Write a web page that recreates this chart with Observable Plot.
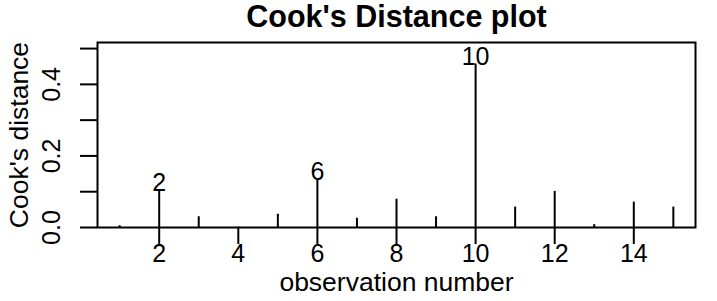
<!DOCTYPE html>
<html>
<head>
<meta charset="utf-8">
<script src="https://cdn.jsdelivr.net/npm/d3@7"></script>
<script src="https://cdn.jsdelivr.net/npm/@observablehq/plot@0.6"></script>
<style>
  html, body { margin: 0; padding: 0; background: #fff; }
  svg { display: block; }
</style>
</head>
<body>
<div id="chart"></div>
<script>
const observation = [1, 2, 3, 4, 5, 6, 7, 8, 9, 10, 11, 12, 13, 14, 15];
const cooksDistance = [0.005, 0.104, 0.030, 0.001, 0.037, 0.135, 0.026, 0.079, 0.030, 0.457, 0.057, 0.101, 0.008, 0.071, 0.057];
const labeledObs = [2, 6, 10];
const xTicks = [2, 4, 6, 8, 10, 12, 14];
const yTicks = [0, 0.1, 0.2, 0.3, 0.4, 0.5];
const yTickLabels = [0, 0.2, 0.4];
const title = "Cook's Distance plot";
const xLabel = "observation number";
const yLabel = "Cook's distance";

const data = observation.map((o, i) => ({obs: o, cook: cooksDistance[i]}));
const labeled = data.filter(d => labeledObs.includes(d.obs));
const font = "'Liberation Sans', Arial, Helvetica, sans-serif";
const fs = 25;

const chart = Plot.plot({
  width: 717,
  height: 301,
  marginTop: 42,
  marginRight: 22,
  marginBottom: 74,
  marginLeft: 97,
  style: {fontFamily: font, fontSize: fs + "px", color: "#000", background: "#fff"},
  x: {domain: [0.44, 15.56]},
  y: {domain: [0, 0.517]},
  marks: [
    Plot.ruleX(data, {x: "obs", y: "cook", stroke: "#000", strokeWidth: 2}),
    Plot.frame({stroke: "#000", strokeWidth: 2}),
    Plot.axisX({ticks: xTicks, tickSize: 17, tickPadding: 0, strokeWidth: 2, fontSize: fs, label: null, tickFormat: d => String(d)}),
    Plot.axisY({ticks: yTicks, tickSize: 17, strokeWidth: 2, tickFormat: () => "", label: null}),
    Plot.text(yTickLabels, {y: d => d, text: d => d.toFixed(1), frameAnchor: "left", dx: -38, rotate: -90, textAnchor: "middle", lineAnchor: "bottom", fontSize: fs}),
    Plot.text(labeled, {x: "obs", y: "cook", text: d => String(d.obs), textAnchor: "middle", lineAnchor: "bottom", dy: 1, fontSize: fs}),
    Plot.text([title], {frameAnchor: "top", dy: -16, textAnchor: "middle", lineAnchor: "bottom", fontWeight: "bold", fontSize: 30.5}),
    Plot.text([xLabel], {frameAnchor: "bottom", dy: 63, textAnchor: "middle", lineAnchor: "bottom", fontSize: 26.5}),
    Plot.text([yLabel], {frameAnchor: "left", dx: -70, rotate: -90, textAnchor: "middle", lineAnchor: "bottom", fontSize: 26.5})
  ]
});
document.getElementById("chart").appendChild(chart);
</script>
</body>
</html>
